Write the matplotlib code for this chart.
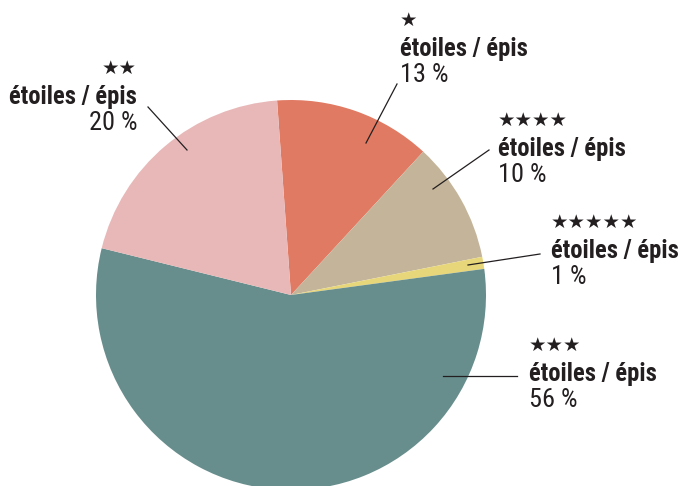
import matplotlib
matplotlib.use("Agg")
import matplotlib.pyplot as plt
from matplotlib import font_manager

# Données
parts = [13, 10, 1, 56, 20]
etoiles = ["★", "★★★★", "★★★★★", "★★★", "★★"]
libelles = ["étoiles / épis"] * 5
couleurs = ["#E07A63", "#C4B59A", "#E8D67A", "#678E8C", "#E8B8B8"]

noms = {f.name for f in font_manager.fontManager.ttflist}
police = next((n for n in ["Roboto Condensed", "Barlow Condensed", "Asap Condensed"] if n in noms),
              "Liberation Sans")

W, H = 679, 486
CX, CY, R = 291, 295, 195


def px(x, y):
    # pixels -> coordonnées du graphique
    return (x - CX) / R, (CY - y) / R


fig = plt.figure(figsize=(W / 100, H / 100), dpi=100)
ax = fig.add_axes([0, 0, 1, 1])
ax.pie(parts, colors=couleurs, startangle=94.1, counterclock=False,
       radius=1, center=(0, 0), wedgeprops=dict(linewidth=0))
ax.set_xlim(-CX / R, (W - CX) / R)
ax.set_ylim(-(H - CY) / R, CY / R)
ax.set_aspect("equal")
ax.axis("off")

# taille de police calée sur la largeur du libellé (≈127 px)
renderer = fig.canvas.get_renderer()
essai = fig.text(0, 0, libelles[0], fontsize=20, family=police, weight="bold")
largeur = essai.get_window_extent(renderer).width
essai.remove()
taille = 20 * 127 / largeur

# position des étiquettes : (x, y des étoiles, alignement, trait)
places = [
    (400, 26, "left", ((366, 143), (397, 84))),
    (498, 126, "left", ((433, 189), (489, 150))),
    (551, 228, "left", ((468, 265), (540, 254))),
    (529, 351, "left", ((443, 376), (517, 376))),
    (137, 74, "right", ((187, 150), (148, 107))),
]

for p, e, lib, (x, y, ha, trait) in zip(parts, etoiles, libelles, places):
    ax.text(*px(x, y), e, ha=ha, va="baseline", fontsize=14,
            family="DejaVu Sans", color="#231f20")
    ax.text(*px(x, y + 30), lib, ha=ha, va="baseline", fontsize=taille,
            family=police, weight="bold", color="#231f20")
    ax.text(*px(x, y + 56), f"{p} %", ha=ha, va="baseline", fontsize=taille * 1.07,
            family=police, color="#231f20")
    (x0, y0), (x1, y1) = trait
    a, b = px(x0, y0)
    c, d = px(x1, y1)
    ax.plot([a, c], [b, d], color="#231f20", lw=0.9)

fig.savefig("out.png", dpi=100)
